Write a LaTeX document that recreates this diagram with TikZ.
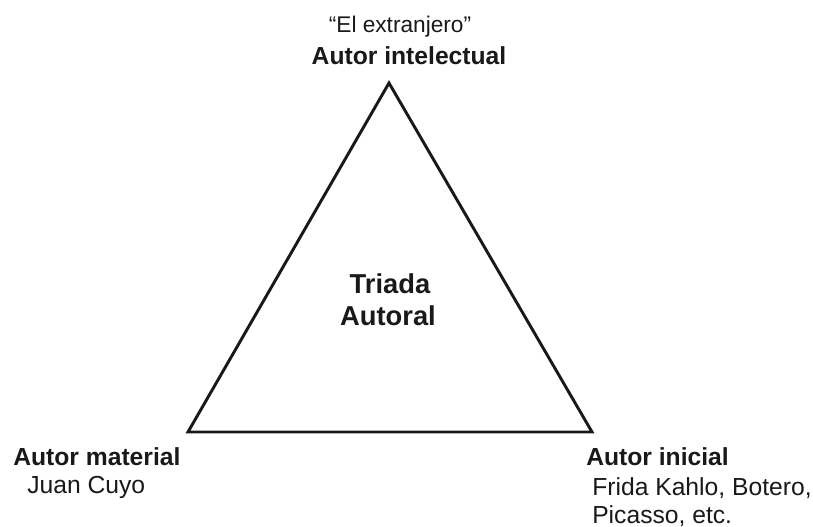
\documentclass[tikz,border=0pt]{standalone}
\usepackage{fontspec}
\setmainfont{Liberation Sans}
\usetikzlibrary{positioning}

\begin{document}
\begin{tikzpicture}[x=0.75pt,y=-0.75pt,
labelnode/.style={inner sep=0pt, font=\fontsize{18.5}{22}\selectfont, text=black!90},
headnode/.style={labelnode, font=\fontsize{18.5}{22}\selectfont\bfseries},
centernode/.style={inner sep=0pt, font=\fontsize{20.5}{24}\selectfont\bfseries, text=black!90},
]
\useasboundingbox (0,0) rectangle (813,527);

%Corners
\coordinate (top)   at (389,83);
\coordinate (left)  at (188,432);
\coordinate (right) at (592,432);

%Nodes
\node[labelnode, anchor=base, font=\fontsize{17}{20}\selectfont] (quote) at (400,33) {“El extranjero”};
\node[headnode, anchor=base]       (intelectual) at (409,65)  {Autor intelectual};

\node[centernode, anchor=base]     (triada)  at (390,293) {Triada};
\node[centernode, anchor=base]     (autoral) at (388,325) {Autoral};

\node[headnode, anchor=base west]  (material) at (13,465) {Autor material};
\node[labelnode, anchor=base west] (juan)     at (27,493) {Juan Cuyo};

\node[headnode, anchor=base west]  (inicial)  at (586,465) {Autor inicial};
\node[labelnode, anchor=base west] (frida)    at (592,495) {Frida Kahlo, Botero,};
\node[labelnode, anchor=base west] (picasso)  at (592,523) {Picasso, etc.};

%Lines
\draw[line width=2.2pt, line join=miter, draw=black!90] (top) -- (right) -- (left) -- cycle;

\end{tikzpicture}
\end{document}
